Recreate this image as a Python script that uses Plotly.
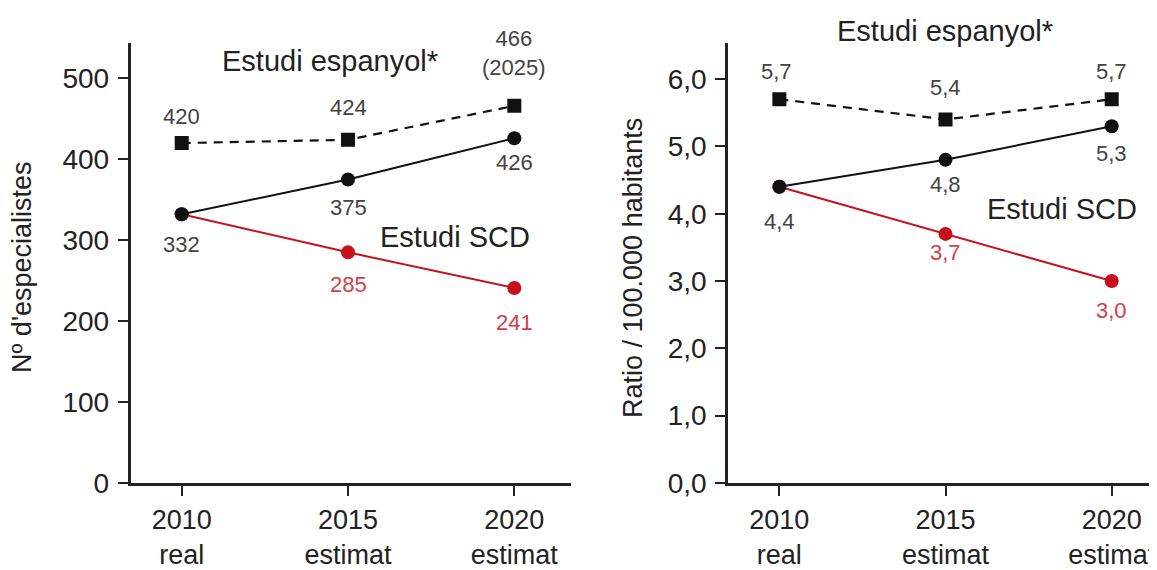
import plotly.graph_objects as go

# ---------------- data ----------------
categories = ["2010", "2015", "2020"]
category_sub = ["real", "estimat", "estimat"]

# Left panel: number of specialists
esp_count = [420, 424, 466]          # Estudi espanyol* (dashed, squares)
esp_count_labels = ["420", "424", "466<br>(2025)"]
trend_count = [332, 375, 426]        # black solid line
red_count = [332, 285, 241]          # Estudi SCD (red)

# Right panel: ratio per 100.000 inhabitants
esp_ratio = [5.7, 5.4, 5.7]
trend_ratio = [4.4, 4.8, 5.3]
red_ratio = [4.4, 3.7, 3.0]

left_yticks = [0, 100, 200, 300, 400, 500]
right_yticks = [0, 1, 2, 3, 4, 5, 6]
right_yticklabels = ["0,0", "1,0", "2,0", "3,0", "4,0", "5,0", "6,0"]

def comma(v):
    return f"{v:.1f}".replace(".", ",")

# ---------------- geometry helpers (screen px -> figure fractions) ----------------
W = 1157
H_EFF = 554   # effective drawn height observed in the rendered page
OFF = 8       # page offset of the figure

def px_x(sx):
    return (sx - OFF) / W

def px_y(sy):
    return 1 - (sy - OFF) / H_EFF

# ---------------- styles ----------------
FONT = "Liberation Sans, Arial, sans-serif"
BLACK = "#111111"
RED = "#c8101c"
RED_TXT = "#d0404c"
GRAY_TXT = "#444444"
AX = "#222222"
xpos = list(range(len(categories)))
ticktext = [f"{c}<br>{s}" for c, s in zip(categories, category_sub)]

fig = go.Figure()

def add_panel(xa, ya, esp, trend, red):
    fig.add_trace(go.Scatter(x=xpos, y=red, xaxis=xa, yaxis=ya, mode="lines+markers",
                             line=dict(color=RED, width=2),
                             marker=dict(symbol="circle", size=14, color=RED),
                             showlegend=False, hoverinfo="skip"))
    fig.add_trace(go.Scatter(x=xpos, y=trend, xaxis=xa, yaxis=ya, mode="lines+markers",
                             line=dict(color=BLACK, width=2),
                             marker=dict(symbol="circle", size=14, color=BLACK),
                             showlegend=False, hoverinfo="skip"))
    fig.add_trace(go.Scatter(x=xpos, y=esp, xaxis=xa, yaxis=ya, mode="lines+markers",
                             line=dict(color=BLACK, width=2.2, dash="9px,7px"),
                             marker=dict(symbol="square", size=14, color=BLACK),
                             showlegend=False, hoverinfo="skip"))

add_panel("x", "y", esp_count, trend_count, red_count)
add_panel("x2", "y2", esp_ratio, trend_ratio, red_ratio)

ann = []
def lab(xr, yr, x, y, text, dy, color=GRAY_TXT, dx=0, size=22):
    ann.append(dict(xref=xr, yref=yr, x=x, y=y, text=text, showarrow=False,
                    xshift=dx, yshift=dy, font=dict(family=FONT, size=size, color=color),
                    xanchor="center", yanchor="middle"))

# left value labels
esp_dy_l = [27, 32, 53]
trend_dy_l = [-30, -28, -24]
red_dy_l = [None, -32, -35]
for i in xpos:
    lab("x", "y", i, esp_count[i], esp_count_labels[i], esp_dy_l[i])
    lab("x", "y", i, trend_count[i], str(trend_count[i]), trend_dy_l[i])
    if red_dy_l[i] is not None:
        lab("x", "y", i, red_count[i], str(red_count[i]), red_dy_l[i], color=RED_TXT)

# right value labels
esp_dy_r = [28, 32, 28]
trend_dy_r = [-35, -25, -27]
red_dy_r = [None, -19, -29]
for i in xpos:
    lab("x2", "y2", i, esp_ratio[i], comma(esp_ratio[i]), esp_dy_r[i], dx=-3 if i == 0 else 0)
    lab("x2", "y2", i, trend_ratio[i], comma(trend_ratio[i]), trend_dy_r[i])
    if red_dy_r[i] is not None:
        lab("x2", "y2", i, red_ratio[i], comma(red_ratio[i]), red_dy_r[i], color=RED_TXT)

# series names
def paper_lab(sx, sy, text, size=29, angle=0):
    ann.append(dict(xref="paper", yref="paper", x=px_x(sx), y=px_y(sy), text=text,
                    textangle=angle, showarrow=False, xanchor="center", yanchor="middle",
                    font=dict(family=FONT, size=size, color=AX)))

paper_lab(330, 61, "Estudi espanyol*")
paper_lab(455, 237, "Estudi SCD")
paper_lab(945, 31, "Estudi espanyol*")
paper_lab(1062, 209, "Estudi SCD")

# axis titles
paper_lab(22, 267, "Nº d'especialistes", size=27, angle=-90)
paper_lab(633, 268, "Ratio / 100.000 habitants", size=27, angle=-90)

ydom = [px_y(483), px_y(42.7)]
common_x = dict(tickmode="array", tickvals=xpos, ticktext=ticktext, showline=True,
                linecolor=AX, linewidth=2.5, ticks="outside", ticklen=10, tickwidth=2,
                tickcolor=AX, showgrid=False, zeroline=False,
                tickfont=dict(family=FONT, size=27, color=AX), ticklabelstandoff=1)
common_y = dict(showline=True, linecolor=AX, linewidth=2.5, ticks="outside", ticklen=10,
                tickwidth=2, tickcolor=AX, showgrid=False, zeroline=False,
                tickfont=dict(family=FONT, size=28, color=AX), ticklabelstandoff=3)

r2_right = (W + OFF - 779.3) / 166.2
fig.update_layout(
    width=1157, height=570,
    margin=dict(l=0, r=0, t=0, b=0),
    paper_bgcolor="white", plot_bgcolor="white",
    showlegend=False,
    xaxis=dict(domain=[px_x(130.5), px_x(570.7)], range=[-0.308, 2.339], anchor="y", **common_x),
    yaxis=dict(domain=ydom, range=[0, 544], anchor="x", tickvals=left_yticks, **common_y),
    xaxis2=dict(domain=[px_x(728), 1.0], range=[-0.309, r2_right], anchor="y2", **common_x),
    yaxis2=dict(domain=ydom, range=[0, 6.54], anchor="x2", tickvals=right_yticks,
                ticktext=right_yticklabels, tickmode="array", **common_y),
    annotations=ann,
)

fig.write_html("out.html")
